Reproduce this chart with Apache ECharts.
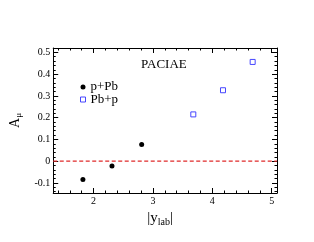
<!DOCTYPE html>
<html><head><meta charset="utf-8">
<script src="https://cdn.jsdelivr.net/npm/echarts@6/dist/echarts.min.js"></script>
<style>html,body{margin:0;padding:0;background:#fff}#c{width:314px;height:242px}</style>
</head><body><div id="c"></div>
<script>
const pPbX = [1.82, 2.31, 2.81];
const pPbY = [-0.084, -0.022, 0.077];
const PbpX = [3.68, 4.18, 4.68];
const PbpY = [0.215, 0.326, 0.456];
const seriesNames = ['p+Pb', 'Pb+p'];
const titleText = 'PACIAE';
const xRange = [1.32, 5.09];
const yRange = [-0.146, 0.52];
const refLineY = 0;

const F = 'Liberation Serif, Times New Roman, serif';
const blue = '#4646ff';
const chart = echarts.init(document.getElementById('c'), null, {renderer: 'canvas'});
function axisBase(show) {
  return {
    axisLine: {show: true, onZero: false, lineStyle: {color: '#000', width: 1}},
    axisTick: {show: true, inside: true, length: 5, lineStyle: {color: '#000'}},
    minorTick: {show: true, splitNumber: 5, length: 2.5, lineStyle: {color: '#000'}},
    splitLine: {show: false},
    axisLabel: {show: show, fontFamily: F, fontSize: 10, color: '#000', margin: 3, showMinLabel: false, showMaxLabel: false}
  };
}
const option = {
  animation: false,
  backgroundColor: '#fff',
  grid: {left: 49, right: 37, top: 48, bottom: 49},
  title: {text: titleText, left: 141, top: 58, padding: 0,
    textStyle: {fontFamily: F, fontSize: 13, fontWeight: 'normal', color: '#000'}},
  legend: {
    left: 80, top: 80.5, orient: 'vertical', itemGap: -0.5, itemWidth: 5, itemHeight: 5, padding: 0,
    textStyle: {fontFamily: F, fontSize: 13, color: '#000'},
    data: [{name: seriesNames[0], icon: 'circle', itemStyle: {color: '#000', opacity: 1}},
           {name: seriesNames[1], icon: 'rect', itemStyle: {color: 'rgba(0,0,0,0)', borderColor: blue, borderWidth: 1, opacity: 1}}]
  },
  xAxis: [
    Object.assign(axisBase(true), {type: 'value', min: xRange[0], max: xRange[1], position: 'bottom',
      name: '{n||y}{s|lab}{n||}', nameLocation: 'middle', nameGap: 11,
      nameTextStyle: {fontFamily: F, fontSize: 14, color: '#000', padding: [0, 10, 0, 0], rich: {
        n: {fontFamily: F, fontSize: 15, color: '#000'},
        s: {fontFamily: F, fontSize: 10, color: '#000', padding: [8, 0, 0, 0]}
      }}}),
    Object.assign(axisBase(false), {type: 'value', min: xRange[0], max: xRange[1], position: 'top'})
  ],
  yAxis: [
    Object.assign(axisBase(true), {type: 'value', min: yRange[0], max: yRange[1], position: 'left',
      name: '{n|A}{s|μ}', nameLocation: 'middle', nameGap: 24, nameRotate: 90,
      nameTextStyle: {fontFamily: F, fontSize: 13, color: '#000', rich: {
        n: {fontFamily: F, fontSize: 14, color: '#000'},
        s: {fontFamily: F, fontSize: 9, color: '#000', padding: [8, 0, 0, 0]}
      }}}),
    Object.assign(axisBase(false), {type: 'value', min: yRange[0], max: yRange[1], position: 'right'})
  ],
  series: [
    {name: 'zero', type: 'line', symbol: 'none', silent: true, z: 1,
     lineStyle: {color: '#e02a2a', type: [4, 2.5], width: 1.2},
     data: [[xRange[0], refLineY], [xRange[1], refLineY]]},
    {name: seriesNames[0], type: 'scatter', symbol: 'circle', symbolSize: 5, z: 3,
     itemStyle: {color: '#000', opacity: 1}, data: pPbX.map((x, i) => [x, pPbY[i]])},
    {name: seriesNames[1], type: 'scatter', symbol: 'rect', symbolSize: 5, z: 3,
     itemStyle: {color: 'rgba(0,0,0,0)', borderColor: blue, borderWidth: 1, opacity: 1},
     data: PbpX.map((x, i) => [x, PbpY[i]])}
  ]
};
chart.setOption(option);
</script></body></html>
